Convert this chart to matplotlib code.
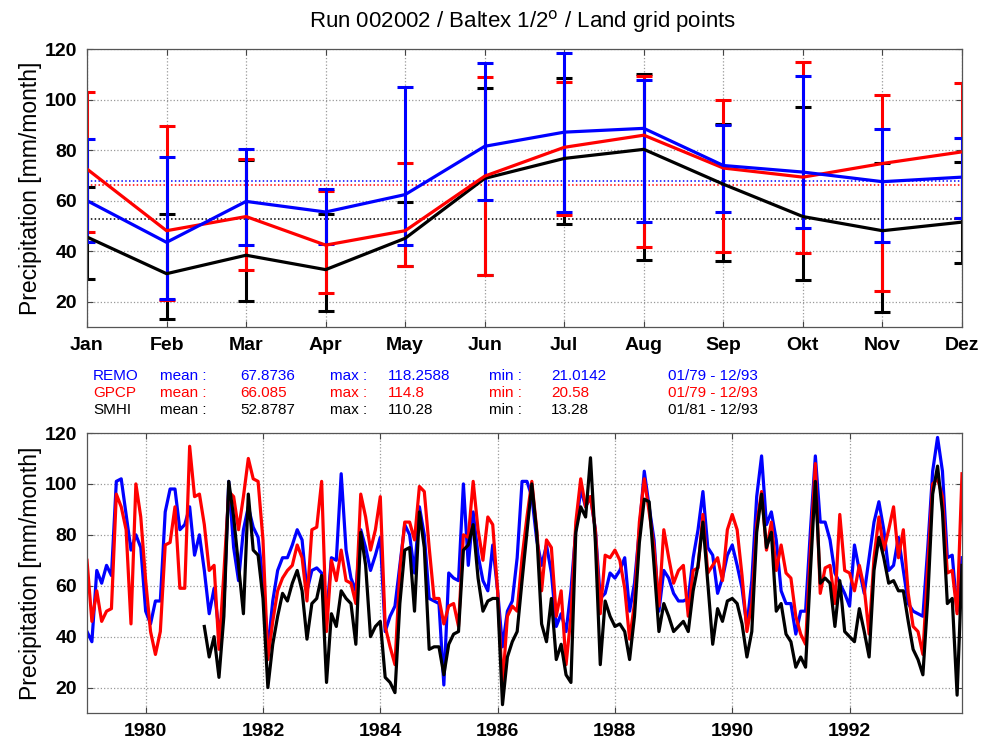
import numpy as np
import matplotlib
matplotlib.use('Agg')
import matplotlib.pyplot as plt

plt.rcParams['font.family'] = ['Liberation Sans', 'DejaVu Sans']

# ---- seasonal cycle (top panel): monthly mean, max, min over all years
months = ['Jan', 'Feb', 'Mar', 'Apr', 'May', 'Jun', 'Jul', 'Aug', 'Sep', 'Okt', 'Nov', 'Dez']

remo_mean = [60.0, 43.5, 59.7, 55.5, 62.4, 81.5, 87.1, 88.6, 73.9, 71.3, 67.5, 69.3]
remo_max = [84.4, 77.1, 80.3, 64.8, 105.0, 114.3, 118.26, 107.9, 90.0, 109.2, 88.4, 84.7]
remo_min = [43.6, 21.01, 42.4, 42.8, 42.4, 60.1, 55.5, 51.7, 55.7, 49.3, 43.5, 53.1]

gpcp_mean = [72.5, 48.1, 53.7, 42.4, 48.1, 69.7, 81.1, 85.9, 72.9, 69.3, 74.7, 79.3]
gpcp_max = [102.8, 89.6, 76.4, 64.0, 74.8, 109.0, 107.0, 109.2, 99.9, 114.8, 101.7, 106.4]
gpcp_min = [47.6, 20.58, 32.4, 23.5, 34.1, 30.7, 54.4, 41.7, 39.7, 39.3, 24.4, 53.0]

smhi_mean = [45.6, 31.1, 38.4, 32.7, 45.1, 68.8, 76.7, 80.3, 66.5, 53.7, 48.1, 51.5]
smhi_max = [65.3, 54.8, 76.0, 54.8, 59.5, 104.4, 108.6, 110.28, 90.5, 97.2, 74.7, 75.1]
smhi_min = [28.8, 13.28, 20.4, 16.4, 34.0, 30.5, 50.8, 36.7, 36.0, 28.4, 16.0, 35.5]

# overall means (dotted reference lines)
overall_mean = {'REMO': 67.8736, 'GPCP': 66.085, 'SMHI': 52.8787}

# ---- monthly time series (bottom panel), REMO/GPCP 01/79-12/93, SMHI 01/81-12/93
remo_ts = [
    42, 38, 66, 61, 68, 64, 101, 102, 88, 74, 80, 75,
    50, 45, 54, 54, 89, 98, 98, 82, 84, 91, 72, 80,
    66, 49, 59, 42, 52, 101, 75, 62, 82, 91, 83, 79,
    62, 35, 54, 66, 71, 71, 76, 82, 78, 58, 66, 67,
    65, 48, 71, 70, 104, 74, 63, 58, 82, 75, 66, 72,
    79, 42, 48, 52, 68, 84, 80, 65, 91, 80, 55, 54,
    53, 21, 65, 63, 62, 100, 68, 89, 72, 62, 58, 76,
    58, 36, 50, 54, 71, 101, 101, 95, 78, 68, 76, 65,
    44, 49, 42, 58, 82, 98, 91, 95, 82, 55, 57, 65,
    63, 66, 71, 50, 61, 82, 105, 91, 78, 50, 66, 63,
    57, 54, 54, 55, 71, 82, 97, 75, 72, 57, 63, 72,
    76, 68, 59, 44, 62, 95, 111, 84, 89, 78, 58, 53,
    53, 41, 50, 50, 82, 111, 85, 85, 78, 65, 61, 57,
    52, 76, 66, 57, 71, 85, 93, 82, 66, 68, 79, 66,
    53, 50, 49, 48, 75, 105, 118.26, 105, 71, 72, 50, 71,
]
gpcp_ts = [
    70, 46, 58, 46, 50, 51, 96, 91, 82, 45, 100, 87,
    62, 42, 33, 42, 76, 77, 91, 59, 59, 114.8, 95, 96,
    84, 66, 68, 35, 65, 97, 95, 82, 95, 110, 102, 101,
    78, 31, 46, 58, 63, 66, 68, 76, 71, 54, 82, 83,
    101, 42, 70, 62, 74, 62, 61, 53, 96, 87, 74, 82,
    95, 44, 36, 29, 66, 85, 85, 78, 99, 97, 75, 55,
    55, 45, 52, 53, 44, 80, 79, 101, 82, 70, 87, 84,
    58, 20.58, 48, 52, 50, 71, 87, 101, 82, 58, 78, 75,
    48, 58, 29, 48, 85, 102, 91, 95, 82, 49, 72, 71,
    74, 70, 59, 39, 53, 85, 102, 89, 75, 52, 82, 71,
    61, 66, 68, 48, 66, 67, 88, 65, 68, 71, 62, 82,
    88, 82, 64, 42, 53, 84, 97, 74, 85, 66, 76, 65,
    63, 48, 41, 37, 74, 108, 57, 67, 68, 53, 88, 66,
    65, 58, 68, 59, 41, 71, 87, 74, 82, 91, 71, 82,
    57, 44, 42, 33, 68, 100, 102, 95, 65, 66, 49, 104,
]
smhi_ts = [
    44, 32, 40, 24, 48, 101, 87, 68, 49, 96, 74, 72,
    55, 20, 37, 48, 57, 54, 61, 66, 58, 39, 53, 55,
    64, 22, 49, 44, 58, 55, 53, 37, 81, 68, 40, 44,
    46, 24, 22, 18, 53, 74, 75, 50, 89, 75, 35, 36,
    36, 25, 37, 41, 42, 74, 76, 84, 63, 50, 54, 55,
    55, 13.28, 32, 38, 42, 62, 81, 100, 81, 45, 38, 55,
    31, 37, 25, 22, 81, 91, 87, 110.28, 77, 29, 54, 48,
    44, 45, 42, 31, 48, 77, 94, 93, 68, 42, 53, 48,
    42, 44, 46, 42, 58, 68, 85, 61, 37, 51, 46, 54,
    55, 53, 45, 32, 42, 81, 96, 75, 81, 50, 53, 41,
    38, 28, 32, 28, 66, 101, 61, 63, 61, 44, 62, 42,
    40, 38, 51, 42, 32, 66, 79, 71, 61, 62, 58, 58,
    46, 35, 31, 25, 55, 96, 107, 89, 53, 55, 17, 68,
]

stats = [
    ('REMO', 'blue', '67.8736', '118.2588', '21.0142', '01/79 - 12/93'),
    ('GPCP', 'red', '66.085', '114.8', '20.58', '01/79 - 12/93'),
    ('SMHI', 'black', '52.8787', '110.28', '13.28', '01/81 - 12/93'),
]

W, H = 982, 742
fig = plt.figure(figsize=(W / 100, H / 100), dpi=100)


def px(x, y):
    return x / W, 1 - y / H


def style_axes(ax):
    ax.tick_params(direction='in', top=True, right=True, length=4, width=0.8,
                   labelsize=14, pad=7, colors='#444444', labelcolor='black')
    for lab in ax.get_xticklabels() + ax.get_yticklabels():
        lab.set_fontweight('bold')
    for s in ax.spines.values():
        s.set_color('#555555')
        s.set_linewidth(0.9)
    ax.grid(True, ls=':', color='#999999', lw=0.9)
    ax.set_axisbelow(True)
    ax.set_ylabel('Precipitation [mm/month]', fontsize=16.5, labelpad=2)


# ---- top panel
ax1 = fig.add_axes([87 / W, 1 - 327 / H, 875 / W, 278 / H])
x = np.arange(12)
series = [
    (smhi_mean, smhi_min, smhi_max, 'black', overall_mean['SMHI']),
    (gpcp_mean, gpcp_min, gpcp_max, 'red', overall_mean['GPCP']),
    (remo_mean, remo_min, remo_max, 'blue', overall_mean['REMO']),
]
for mean, lo, hi, col, om in series:
    mean = np.array(mean); lo = np.array(lo); hi = np.array(hi)
    ax1.axhline(om, color=col, ls=(0, (1, 1.5)), lw=1.1)
    ax1.errorbar(x, mean, yerr=[mean - lo, hi - mean], color=col, lw=2.3,
                 elinewidth=2.2, capsize=6, capthick=2.2)
ax1.set_xlim(0, 11)
ax1.set_ylim(10, 120)
ax1.set_xticks(x)
ax1.set_xticklabels(months)
ax1.set_yticks([20, 40, 60, 80, 100, 120])
style_axes(ax1)

fig.text(*px(523, 22), 'Run 002002 / Baltex 1/2$^{\\rm o}$ / Land grid points',
         ha='center', va='center', fontsize=16)

# ---- statistics block
cols = [93, 160, 240, 330, 388, 489, 551, 668]
for k, (name, col, mn, mx, mi, per) in enumerate(stats):
    y = 376 + 17 * k
    items = [name, 'mean :', mn, 'max :', mx, 'min :', mi, per]
    for xx, s in zip(cols, items):
        fig.text(*px(xx, y), s, color=col, fontsize=11, ha='left', va='center')

# ---- bottom panel
ax2 = fig.add_axes([87 / W, 1 - 713 / H, 875 / W, 280 / H])
t = 1979 + np.arange(len(remo_ts)) / 12
t_smhi = 1981 + np.arange(len(smhi_ts)) / 12
ax2.plot(t, remo_ts, color='blue', lw=2.3)
ax2.plot(t, gpcp_ts, color='red', lw=2.3)
ax2.plot(t_smhi, smhi_ts, color='black', lw=2.3)
ax2.set_xlim(t[0], t[-1])
ax2.set_ylim(10, 120)
ax2.set_xticks(range(1980, 1993, 2))
ax2.set_yticks([20, 40, 60, 80, 100, 120])
style_axes(ax2)

fig.savefig('out.png', dpi=100)
